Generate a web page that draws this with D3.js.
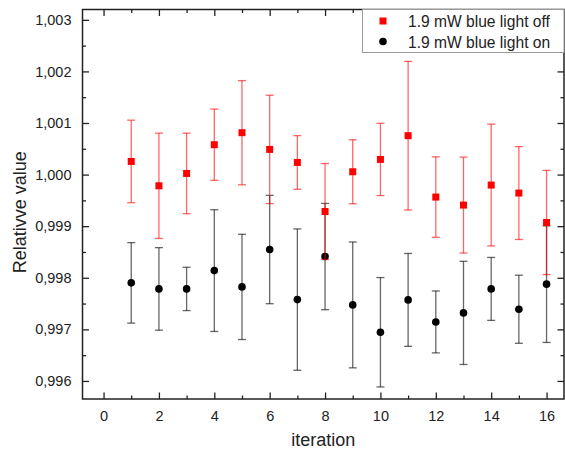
<!DOCTYPE html>
<html lang="en">
<head>
<meta charset="UTF-8">
<title>Relative value vs iteration</title>
<script src="https://d3js.org/d3.v7.min.js"></script>
<style>
    * { margin: 0; padding: 0; box-sizing: border-box; }
    body { background: #fff; width: 565px; height: 457px; overflow: hidden; }
    svg { display: block; font-family: Arial, "Liberation Sans", sans-serif; }
    .axis path { display: none; }
    .axis line { stroke: #222; stroke-width: 1.3; }
    .axis text { fill: #222; font-size: 14.5px; }
</style>
</head>
<body>
<div id="chart"></div>
<script>
    // iteration numbers
    const iterations = [1, 2, 3, 4, 5, 6, 7, 8, 9, 10, 11, 12, 13, 14, 15, 16];

    // 1.9 mW blue light off
    const offValues = [1.000255, 0.999783, 1.000022, 1.000579, 1.000812, 1.000488, 1.000235, 0.999284,
                       1.000055, 1.000294, 1.000754, 0.999564, 0.999409, 0.999797, 0.999642, 0.999071];
    const offErrors = [0.00080, 0.00102, 0.00078, 0.00069, 0.00101, 0.00105, 0.00052, 0.00093,
                       0.00062, 0.00070, 0.00144, 0.00078, 0.00093, 0.00118, 0.00090, 0.00101];

    // 1.9 mW blue light on
    const onValues = [0.997901, 0.997784, 0.997784, 0.998139, 0.997823, 0.998547, 0.997577, 0.998411,
                      0.997474, 0.996944, 0.997571, 0.997144, 0.997319, 0.997784, 0.997390, 0.997876];
    const onErrors = [0.00078, 0.00080, 0.00042, 0.00118, 0.00102, 0.00105, 0.00137, 0.00103,
                      0.00122, 0.00106, 0.00090, 0.00060, 0.00100, 0.00061, 0.00066, 0.00113];

    const xTicks = [0, 2, 4, 6, 8, 10, 12, 14, 16];
    const xMinorTicks = [1, 3, 5, 7, 9, 11, 13, 15];
    const yTicks = [0.996, 0.997, 0.998, 0.999, 1.000, 1.001, 1.002, 1.003];
    const yMinorTicks = [0.9965, 0.9975, 0.9985, 0.9995, 1.0005, 1.0015, 1.0025];

    const legendLabels = ["1.9 mW blue light off", "1.9 mW blue light on"];

    const W = 565, H = 457;
    const pLeft = 82.5, pRight = 564, pTop = 9.5, pBottom = 399;

    const svg = d3.select("#chart").append("svg")
        .attr("width", W)
        .attr("height", H);

    const x = d3.scaleLinear().domain([-0.76, 16.63]).range([pLeft, pRight]);
    const y = d3.scaleLinear().domain([0.99565, 1.0032]).range([pBottom, pTop]);

    const locale = d3.formatLocale({ decimal: ",", thousands: ".", grouping: [3], currency: ["", ""] });
    const fmt = locale.format(".3f");

    // axes (ticks pointing inward, mirrored on top and right)
    svg.append("g").attr("class", "axis")
        .attr("transform", `translate(0,${pBottom})`)
        .call(d3.axisBottom(x).tickValues(xTicks).tickSizeInner(-6.5).tickSizeOuter(0).tickPadding(12).tickFormat(d3.format("d")));
    svg.append("g").attr("class", "axis")
        .attr("transform", `translate(0,${pBottom})`)
        .call(d3.axisBottom(x).tickValues(xMinorTicks).tickSizeInner(-3.5).tickSizeOuter(0).tickFormat(""));
    svg.append("g").attr("class", "axis")
        .attr("transform", `translate(0,${pTop})`)
        .call(d3.axisTop(x).tickValues(xTicks).tickSizeInner(-6.5).tickSizeOuter(0).tickFormat(""));
    svg.append("g").attr("class", "axis")
        .attr("transform", `translate(0,${pTop})`)
        .call(d3.axisTop(x).tickValues(xMinorTicks).tickSizeInner(-3.5).tickSizeOuter(0).tickFormat(""));

    svg.append("g").attr("class", "axis")
        .attr("transform", `translate(${pLeft},0)`)
        .call(d3.axisLeft(y).tickValues(yTicks).tickSizeInner(-6.5).tickSizeOuter(0).tickPadding(11).tickFormat(fmt));
    svg.append("g").attr("class", "axis")
        .attr("transform", `translate(${pLeft},0)`)
        .call(d3.axisLeft(y).tickValues(yMinorTicks).tickSizeInner(-3.5).tickSizeOuter(0).tickFormat(""));
    svg.append("g").attr("class", "axis")
        .attr("transform", `translate(${pRight},0)`)
        .call(d3.axisRight(y).tickValues(yTicks).tickSizeInner(-6.5).tickSizeOuter(0).tickFormat(""));
    svg.append("g").attr("class", "axis")
        .attr("transform", `translate(${pRight},0)`)
        .call(d3.axisRight(y).tickValues(yMinorTicks).tickSizeInner(-3.5).tickSizeOuter(0).tickFormat(""));

    // frame
    svg.append("rect")
        .attr("x", pLeft).attr("y", pTop)
        .attr("width", pRight - pLeft).attr("height", pBottom - pTop)
        .attr("fill", "none").attr("stroke", "#222").attr("stroke-width", 1.5);

    // axis titles
    svg.append("text")
        .attr("x", (pLeft + pRight) / 2).attr("y", 446)
        .attr("text-anchor", "middle")
        .attr("font-size", 18).attr("fill", "#222")
        .text("iteration");
    svg.append("text")
        .attr("transform", `translate(26,${(pTop + pBottom) / 2 + 8}) rotate(-90)`)
        .attr("text-anchor", "middle")
        .attr("font-size", 18).attr("fill", "#222")
        .text("Relativve value");

    // error bars + markers
    function drawSeries(values, errors, color, barOpacity, shape) {
        const data = iterations.map((it, i) => ({ it: it, v: values[i], e: errors[i] }));
        const g = svg.append("g");
        const bars = g.selectAll(".eb").data(data).join("g")
            .attr("stroke", color).attr("stroke-opacity", barOpacity).attr("stroke-width", 1.3);
        bars.append("line")
            .attr("x1", d => x(d.it)).attr("x2", d => x(d.it))
            .attr("y1", d => y(d.v + d.e)).attr("y2", d => y(d.v - d.e));
        bars.append("line")
            .attr("x1", d => x(d.it) - 4).attr("x2", d => x(d.it) + 4)
            .attr("y1", d => y(d.v + d.e)).attr("y2", d => y(d.v + d.e));
        bars.append("line")
            .attr("x1", d => x(d.it) - 4).attr("x2", d => x(d.it) + 4)
            .attr("y1", d => y(d.v - d.e)).attr("y2", d => y(d.v - d.e));

        if (shape === "square") {
            g.selectAll(".pt").data(data).join("rect")
                .attr("x", d => x(d.it) - 3.5).attr("y", d => y(d.v) - 3.5)
                .attr("width", 7).attr("height", 7)
                .attr("fill", color);
        } else {
            g.selectAll(".pt").data(data).join("circle")
                .attr("cx", d => x(d.it)).attr("cy", d => y(d.v))
                .attr("r", 3.8)
                .attr("fill", color);
        }
    }

    drawSeries(onValues, onErrors, "#000", 0.6, "circle");
    drawSeries(offValues, offErrors, "#ff0000", 0.6, "square");

    // legend
    const lg = svg.append("g");
    lg.append("rect")
        .attr("x", 362.5).attr("y", pTop)
        .attr("width", pRight - 362.5).attr("height", 43)
        .attr("fill", "#fff").attr("stroke", "#999").attr("stroke-width", 1);
    lg.append("rect")
        .attr("x", 379.5).attr("y", 17.5).attr("width", 7).attr("height", 7)
        .attr("fill", "#ff0000");
    lg.append("circle")
        .attr("cx", 383).attr("cy", 41.5).attr("r", 3.8)
        .attr("fill", "#000");
    legendLabels.forEach((t, i) => {
        lg.append("text")
            .attr("x", 408).attr("y", 26.5 + i * 21)
            .attr("font-size", 15.6).attr("fill", "#222")
            .text(t);
    });
</script>
</body>
</html>
